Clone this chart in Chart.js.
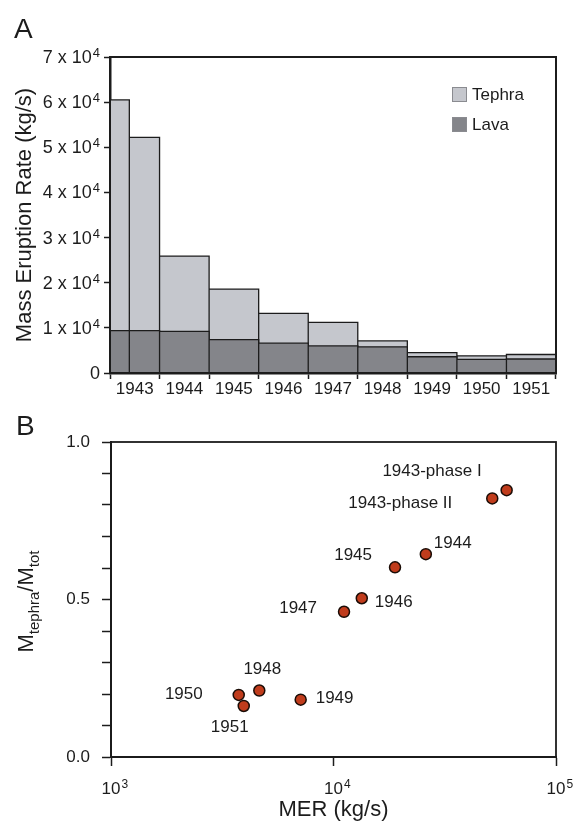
<!DOCTYPE html>
<html>
<head>
<meta charset="utf-8">
<script src="https://cdn.jsdelivr.net/npm/chart.js@4.4.1/dist/chart.umd.min.js"></script>
<style>
  body { margin: 0; background: #fff; }
  canvas { position: absolute; left: 0; }
</style>
</head>
<body>
<canvas id="rateChart" width="577" height="400" style="top:0"></canvas>
<canvas id="ratioChart" width="577" height="423" style="top:400px"></canvas>
<script>
// Panel A: eruption rate per period, kg/s (1943 split in two phases)
const periodEdges = [1943, 1943.39, 1944, 1945, 1946, 1947, 1948, 1949, 1950, 1951, 1952];
const totalRate = [60500, 52200, 25900, 18600, 13200, 11200, 7100, 4500, 3800, 4100];
const lavaRate = [9400, 9400, 9200, 7400, 6600, 6000, 5800, 3600, 3000, 3100];
const yearLabels = ['1943', '1944', '1945', '1946', '1947', '1948', '1949', '1950', '1951'];

// Panel B: tephra mass fraction vs MER
const phaseNames = ['1943-phase I', '1943-phase II', '1944', '1945', '1946', '1947', '1948', '1949', '1950', '1951'];
const merValues = [60000, 51700, 26000, 18900, 13400, 11150, 4640, 7120, 3750, 3950];
const tephraFraction = [0.847, 0.821, 0.644, 0.602, 0.504, 0.461, 0.211, 0.182, 0.197, 0.162];
const merTicks = [1e3, 1e4, 1e5];

const FONT = "'Liberation Sans', Arial, Helvetica, sans-serif";
const INK = '#1c1c1c';
Chart.defaults.font.family = FONT;
Chart.defaults.font.size = 17;
Chart.defaults.color = INK;

// rectangle outline of each bin, so every bar gets its own edges
function histogramOutline(edges, heights) {
  const pts = [];
  heights.forEach((h, i) => {
    pts.push({ x: edges[i], y: 0 }, { x: edges[i], y: h }, { x: edges[i + 1], y: h }, { x: edges[i + 1], y: 0 });
  });
  return pts;
}

const frameBox = {
  id: 'frameBox',
  afterDraw(chart, args, opts) {
    const { ctx, chartArea: a } = chart;
    ctx.save();
    ctx.strokeStyle = INK;
    ctx.lineWidth = opts.width || 2;
    ctx.strokeRect(a.left, a.top, a.right - a.left, a.bottom - a.top);
    ctx.restore();
  }
};

const panelLetter = {
  id: 'panelLetter',
  afterDraw(chart, args, opts) {
    const ctx = chart.ctx;
    ctx.save();
    ctx.font = '28px ' + FONT;
    ctx.fillStyle = INK;
    ctx.textBaseline = 'alphabetic';
    ctx.fillText(opts.text, opts.x, opts.y);
    ctx.restore();
  }
};

// tick labels written as "a x 10^n" with a real raised exponent
const powerTicks = {
  id: 'powerTicks',
  afterDraw(chart, args, opts) {
    const ctx = chart.ctx;
    const scale = chart.scales[opts.axis];
    const main = opts.size + 'px ' + FONT, sup = (opts.size - 5) + 'px ' + FONT;
    ctx.save();
    ctx.fillStyle = INK;
    ctx.textBaseline = 'alphabetic';
    scale.ticks.forEach(t => {
      const [base, exp] = opts.format(t.value);
      const p = scale.getPixelForValue(t.value);
      ctx.font = main;
      const wBase = ctx.measureText(base).width;
      ctx.font = sup;
      const wExp = exp ? ctx.measureText(exp).width + 1 : 0;
      let x, y;
      if (scale.isHorizontal()) {
        x = p - wBase / 2;
        y = scale.top + opts.offset;
      } else {
        x = scale.right - opts.offset - wBase - wExp;
        y = p + 6;
      }
      ctx.font = main;
      ctx.fillText(base, x, y);
      if (exp) {
        ctx.font = sup;
        ctx.fillText(exp, x + wBase + 1, y - 6);
      }
    });
    ctx.restore();
  }
};

const boxLegend = {
  id: 'boxLegend',
  afterDraw(chart) {
    const { ctx, chartArea: a } = chart;
    ctx.save();
    ctx.font = '17px ' + FONT;
    ctx.textBaseline = 'middle';
    chart.data.datasets.forEach((ds, i) => {
      const x = a.right - 104, y = a.top + 30 + i * 30;
      ctx.fillStyle = ds.backgroundColor;
      ctx.fillRect(x, y, 15, 15);
      ctx.strokeStyle = '#8a8b90';
      ctx.lineWidth = 1;
      ctx.strokeRect(x + 0.5, y + 0.5, 14, 14);
      ctx.fillStyle = INK;
      ctx.fillText(ds.label, x + 20, y + 8);
    });
    ctx.restore();
  }
};

new Chart(document.getElementById('rateChart'), {
  type: 'line',
  data: {
    datasets: [
      {
        label: 'Tephra',
        data: histogramOutline(periodEdges, totalRate),
        backgroundColor: '#c5c7cd',
        borderColor: INK,
        borderWidth: 1.3,
        fill: 'origin',
        pointRadius: 0,
        tension: 0,
        order: 2
      },
      {
        label: 'Lava',
        data: histogramOutline(periodEdges, lavaRate),
        backgroundColor: '#84858a',
        borderColor: INK,
        borderWidth: 1.3,
        fill: 'origin',
        pointRadius: 0,
        tension: 0,
        order: 1
      }
    ]
  },
  options: {
    responsive: false,
    animation: false,
    events: [],
    layout: { padding: { left: 0, top: 57, right: 21, bottom: 0 } },
    scales: {
      x: { type: 'linear', min: 1943, max: 1952, display: false },
      years: {
        type: 'category',
        labels: yearLabels,
        position: 'bottom',
        offset: true,
        grid: { offset: true, drawOnChartArea: false, tickLength: 6, tickColor: INK, tickWidth: 1.5 },
        border: { color: INK, width: 2.5 },
        ticks: { padding: 0, autoSkip: false, maxRotation: 0 },
        afterFit: s => { s.height = 27; }
      },
      y: {
        min: 0,
        max: 70000,
        ticks: { stepSize: 10000, display: false },
        grid: { drawOnChartArea: false, tickLength: 6, tickColor: INK, tickWidth: 1.5 },
        border: { color: INK, width: 2.5 },
        title: { display: true, text: 'Mass Eruption Rate (kg/s)', font: { size: 22 }, padding: { top: 12 } },
        afterFit: s => { s.width = 110; }
      }
    },
    plugins: {
      legend: { display: false },
      tooltip: { enabled: false },
      frameBox: { width: 2 },
      panelLetter: { text: 'A', x: 14, y: 38 },
      powerTicks: {
        axis: 'y',
        offset: 10,
        size: 18,
        format: v => v === 0 ? ['0', ''] : [(v / 1e4) + ' x 10', '4']
      }
    }
  },
  plugins: [frameBox, panelLetter, boxLegend, powerTicks]
});

// label placement next to each point: dx, dy, text alignment
const labelPlacement = [
  [-25, -19, 'right'], [-40, 5, 'right'], [8, -11, 'left'], [-23, -12, 'right'], [13, 4, 'left'],
  [-27, -3, 'right'], [3, -21, 'center'], [15, -1, 'left'], [-36, -1, 'right'], [-14, 21, 'center']
];

const pointLabels = {
  id: 'pointLabels',
  afterDatasetsDraw(chart) {
    const ctx = chart.ctx;
    const pts = chart.getDatasetMeta(0).data;
    ctx.save();
    ctx.font = '17px ' + FONT;
    ctx.fillStyle = INK;
    ctx.textBaseline = 'middle';
    pts.forEach((p, i) => {
      const [dx, dy, align] = labelPlacement[i];
      ctx.textAlign = align;
      ctx.fillText(phaseNames[i], p.x + dx, p.y + dy);
    });
    ctx.restore();
  }
};

// rotated y title with subscripts: M_tephra / M_tot
const fractionTitle = {
  id: 'fractionTitle',
  afterDraw(chart) {
    const { ctx, chartArea: a } = chart;
    const parts = [['M', false], ['tephra', true], ['/', false], ['M', false], ['tot', true]];
    const big = '22px ' + FONT, small = '15px ' + FONT;
    ctx.save();
    let total = 0;
    parts.forEach(([t, sub]) => { ctx.font = sub ? small : big; total += ctx.measureText(t).width; });
    ctx.translate(33, (a.top + a.bottom) / 2 + 2);
    ctx.rotate(-Math.PI / 2);
    ctx.fillStyle = INK;
    ctx.textBaseline = 'alphabetic';
    let x = -total / 2;
    parts.forEach(([t, sub]) => {
      ctx.font = sub ? small : big;
      ctx.fillText(t, x, sub ? 6 : 0);
      x += ctx.measureText(t).width;
    });
    ctx.restore();
  }
};

new Chart(document.getElementById('ratioChart'), {
  type: 'scatter',
  data: {
    datasets: [{
      label: 'Tephra fraction',
      data: merValues.map((m, i) => ({ x: m, y: tephraFraction[i] })),
      backgroundColor: '#c03c1c',
      borderColor: '#1a0c06',
      borderWidth: 1.5,
      pointRadius: 5.5
    }]
  },
  options: {
    responsive: false,
    animation: false,
    events: [],
    layout: { padding: { left: 0, top: 42, right: 21, bottom: 0 } },
    scales: {
      x: {
        type: 'logarithmic',
        min: 1e3,
        max: 1e5,
        afterBuildTicks: s => { s.ticks = merTicks.map(v => ({ value: v })); },
        ticks: { display: false },
        grid: { drawOnChartArea: false, tickLength: 9, tickColor: INK, tickWidth: 1.5 },
        border: { color: INK, width: 2 },
        title: { display: true, text: 'MER (kg/s)', font: { size: 22 }, padding: { top: 0, bottom: 0 } },
        afterFit: s => { s.height = 66; }
      },
      y: {
        min: 0,
        max: 1,
        ticks: {
          stepSize: 0.1,
          padding: 12,
          autoSkip: false,
          callback: v => Math.abs(v * 2 - Math.round(v * 2)) < 1e-6 ? v.toFixed(1) : ''
        },
        grid: { drawOnChartArea: false, tickLength: 9, tickColor: INK, tickWidth: 1.5 },
        border: { color: INK, width: 2 },
        afterFit: s => { s.width = 111; }
      }
    },
    plugins: {
      legend: { display: false },
      tooltip: { enabled: false },
      frameBox: { width: 1.8 },
      panelLetter: { text: 'B', x: 16, y: 35 },
      powerTicks: {
        axis: 'x',
        offset: 37,
        size: 17,
        format: v => ['10', String(Math.round(Math.log10(v)))]
      }
    }
  },
  plugins: [frameBox, panelLetter, pointLabels, fractionTitle, powerTicks]
});
</script>
</body>
</html>
